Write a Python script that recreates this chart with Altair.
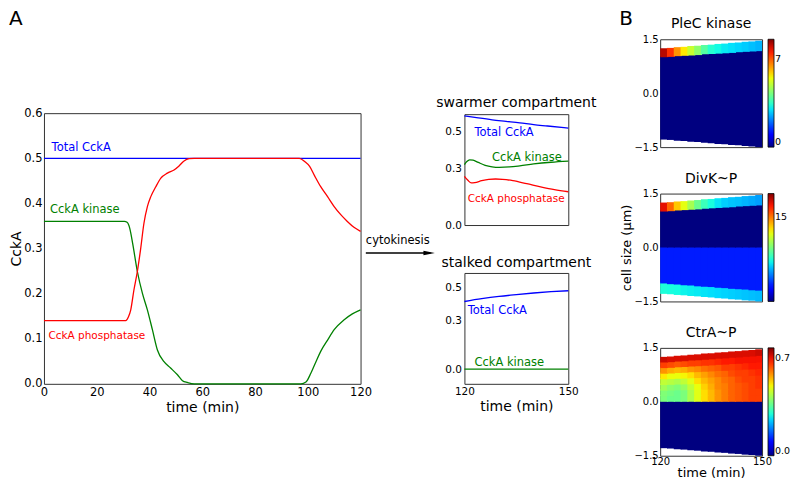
import altair as alt
import pandas as pd

FONT = "DejaVu Sans"
BLUE, GREEN, RED, FRAME = "#0000ff", "#008000", "#ff0000", "#333333"

# ---------------- Panel A : whole cell cycle ----------------
total_t = [0, 120]
total_v = [0.5, 0.5]
kinase_t = [0, 10, 20, 28, 30.5, 31.5, 32.5, 33.6, 35.4, 37.3, 39.2, 41.1, 43.0, 45.5, 48.0,
            50.6, 52.5, 54.4, 57, 70, 85, 97.4, 99.3, 101.2, 103.1, 104.9, 107.5, 110.0,
            113.8, 116.9, 120]
kinase_v = [0.36, 0.36, 0.36, 0.36, 0.36, 0.358, 0.345, 0.312, 0.249, 0.201, 0.164, 0.120,
            0.075, 0.049, 0.035, 0.020, 0.007, 0.003, 0.0, 0.0, 0.0, 0.0, 0.004, 0.024,
            0.049, 0.072, 0.097, 0.120, 0.142, 0.155, 0.164]
phos_t = [0, 10, 20, 28, 31.0, 32.0, 32.9, 34.1, 35.4, 36.6, 37.9, 39.2, 40.5, 42.4, 44.3,
          46.8, 49.3, 51.2, 53.1, 55.0, 57, 70, 85, 96.8, 98.8, 100.7, 102.6, 104.9, 107.5,
          110.0, 112.5, 115.0, 117.5, 120]
phos_v = [0.14, 0.14, 0.14, 0.14, 0.14, 0.148, 0.164, 0.208, 0.249, 0.297, 0.356, 0.393,
          0.415, 0.437, 0.456, 0.467, 0.474, 0.483, 0.494, 0.499, 0.5, 0.5, 0.5, 0.5, 0.493,
          0.482, 0.461, 0.437, 0.415, 0.393, 0.375, 0.360, 0.347, 0.338]
lab_text = ["Total CckA", "CckA kinase", "CckA phosphatase"]
lab_size = [11.5, 11.5, 10.5]
main_lab_t = [2.9, 2.3, 1.7]
main_lab_v = [0.517, 0.378, 0.099]

# ---------------- swarmer compartment ----------------
sw_total_t = [120, 124, 128, 132, 136, 140, 144, 150]
sw_total_v = [0.581, 0.570, 0.560, 0.552, 0.544, 0.534, 0.527, 0.516]
sw_kin_t = [120, 120.7, 121.5, 122.5, 124, 126, 128, 130, 133, 136, 140, 145, 150]
sw_kin_v = [0.322, 0.338, 0.347, 0.345, 0.333, 0.318, 0.310, 0.307, 0.309, 0.315, 0.325, 0.334, 0.340]
sw_pho_t = [120, 121, 122, 123, 125, 127, 129, 131, 134, 138, 142, 146, 150]
sw_pho_v = [0.259, 0.238, 0.224, 0.226, 0.236, 0.243, 0.245, 0.243, 0.236, 0.220, 0.203, 0.188, 0.177]
sw_lab_t = [122.9, 128.0, 120.95]
sw_lab_v = [0.472, 0.342, 0.121]

# ---------------- stalked compartment ----------------
st_total_t = [120, 125, 130, 135, 140, 145, 150]
st_total_v = [0.415, 0.432, 0.446, 0.457, 0.467, 0.475, 0.481]
st_kin_t = [120, 150]
st_kin_v = [0.0, 0.0]
st_lab_t = [120.95, 122.9]
st_lab_v = [0.34, 0.02]

# ---------------- Panel B : kymographs ----------------
heat_t = [120, 122, 124, 126, 128, 130, 132, 134, 136, 138, 140, 142, 144, 146, 148]
cell_top = [1.25, 1.26, 1.28, 1.29, 1.31, 1.32, 1.34, 1.35, 1.37, 1.38, 1.40, 1.41, 1.43, 1.44, 1.46]
cell_bot = [-1.29, -1.30, -1.32, -1.33, -1.35, -1.36, -1.38, -1.39, -1.41, -1.42, -1.44, -1.45, -1.47, -1.48, -1.50]
pole_edge = [1.00, 1.01, 1.03, 1.04, 1.05, 1.06, 1.08, 1.09, 1.10, 1.11, 1.12, 1.14, 1.15, 1.16, 1.17]
newpole_edge = [-1.00, -1.02, -1.03, -1.05, -1.06, -1.08, -1.09, -1.10, -1.12, -1.13, -1.15, -1.16, -1.17, -1.19, -1.20]
mid_line = [0.0] * 15
zero_vals = [0.0] * 15

plec_pole = [8.2, 7.4, 6.5, 5.7, 5.1, 4.5, 3.9, 3.4, 3.2, 3.05, 2.97, 2.88, 2.8, 2.7, 2.6]
divk_pole = [17.5, 15.4, 13.4, 12.1, 10.6, 9.2, 8.1, 7.3, 6.7, 6.3, 6.1, 6.0, 5.8, 5.6, 5.4]
divk_lower = [2.9] * 15
divk_newpole = [7.4, 7.3, 7.2, 7.0, 6.9, 6.8, 6.7, 6.6, 6.5, 6.4, 6.3, 6.2, 6.1, 6.0, 5.9]
# CtrA~P in the upper half: one list per time column, rows from midcell (0) to pole
ctra_upper = [
    [0.385, 0.39, 0.42, 0.45, 0.51, 0.58, 0.65, 0.72],
    [0.37, 0.38, 0.40, 0.44, 0.49, 0.56, 0.64, 0.71],
    [0.37, 0.37, 0.39, 0.43, 0.49, 0.55, 0.63, 0.71],
    [0.385, 0.385, 0.41, 0.45, 0.50, 0.56, 0.64, 0.71],
    [0.43, 0.43, 0.45, 0.48, 0.52, 0.58, 0.65, 0.71],
    [0.48, 0.48, 0.49, 0.52, 0.55, 0.59, 0.65, 0.71],
    [0.52, 0.52, 0.53, 0.55, 0.57, 0.61, 0.66, 0.71],
    [0.55, 0.55, 0.56, 0.57, 0.59, 0.62, 0.66, 0.71],
    [0.58, 0.58, 0.59, 0.59, 0.61, 0.63, 0.67, 0.71],
    [0.60, 0.60, 0.60, 0.61, 0.62, 0.65, 0.68, 0.71],
    [0.62, 0.62, 0.62, 0.62, 0.64, 0.65, 0.68, 0.71],
    [0.63, 0.63, 0.63, 0.64, 0.65, 0.66, 0.69, 0.71],
    [0.64, 0.64, 0.64, 0.65, 0.65, 0.67, 0.69, 0.71],
    [0.65, 0.65, 0.65, 0.65, 0.66, 0.68, 0.69, 0.71],
    [0.65, 0.65, 0.66, 0.66, 0.67, 0.68, 0.69, 0.72],
]

JET_STOPS = [0, 0.11, 0.125, 0.34, 0.375, 0.64, 0.66, 0.89, 1.0]
JET = ["#000080", "#0000ff", "#0000ff", "#00dbff", "#14ffe2", "#eeff08", "#ffec00", "#ff1300", "#800000"]

NOFRAME = alt.ViewBackground(stroke="transparent")


def line_panel(X, Y, series, labels, extra=()):
    layers = []
    for ts, vs, col in series:
        layers.append(alt.Chart(pd.DataFrame({"t": ts, "v": vs})).mark_line(
            color=col, strokeWidth=1.3, interpolate="monotone").encode(x=X, y=Y))
    for txt, t, v, col, fs in labels:
        df = pd.DataFrame({"t": [t], "v": [v], "txt": [txt]})
        layers.append(alt.Chart(df).mark_text(
            align="left", baseline="alphabetic", font=FONT, fontSize=fs, color=col
        ).encode(x=X, y=Y, text="txt:N"))
    layers.extend(extra)
    return alt.layer(*layers)


def header(letter, dx, height=1):
    base = alt.Chart(pd.DataFrame({"t": [0]})).mark_point(opacity=0, size=1).encode(
        x=alt.value(0), y=alt.value(0))
    if letter:
        return base.properties(
            width=1, height=height, view=NOFRAME,
            title=alt.TitleParams(letter, font=FONT, fontSize=20, fontWeight="normal",
                                  anchor="start", frame="group", dx=dx, offset=0))
    return base.properties(width=1, height=height, view=NOFRAME)


# ---- main chart ----
XA = alt.X("t:Q", scale=alt.Scale(domain=[0, 120], nice=False, zero=False),
           axis=alt.Axis(values=[0, 20, 40, 60, 80, 100, 120], format="d", title="time (min)",
                         labelFlush=False, labelPadding=3, titlePadding=2, titleFontSize=14))
YA = alt.Y("v:Q", scale=alt.Scale(domain=[0, 0.6], nice=False, zero=False),
           axis=alt.Axis(values=[0, 0.1, 0.2, 0.3, 0.4, 0.5, 0.6], format=".1f", title="CckA",
                         labelFlush=False, labelPadding=2, titlePadding=0, titleFontSize=14))

cyto_txt = pd.DataFrame({"t": [122.0], "v": [0.31], "txt": ["cytokinesis"]})
arrow_line = pd.DataFrame({"t": [122.0], "t2": [146.5], "v": [0.29]})
arrow_head = pd.DataFrame({"t": [146.0], "v": [0.29]})
ARROW = "M -1 -0.38 L 1 0 L -1 0.38 Z"

extra_main = [
    alt.Chart(cyto_txt).mark_text(align="left", baseline="alphabetic", font=FONT, fontSize=11.5,
                                  color="black").encode(x=XA, y=YA, text="txt:N"),
    alt.Chart(arrow_line).mark_rule(color="black", strokeWidth=1.3).encode(
        x=XA, x2=alt.X2("t2:Q"), y=YA),
    alt.Chart(arrow_head).mark_point(shape=ARROW, filled=True, size=130, color="black",
                                     opacity=1).encode(x=XA, y=YA),
]

COLS3 = [BLUE, GREEN, RED]
main = line_panel(
    XA, YA,
    [(total_t, total_v, BLUE), (kinase_t, kinase_v, GREEN), (phos_t, phos_v, RED)],
    [(lab_text[i], main_lab_t[i], main_lab_v[i], COLS3[i], lab_size[i]) for i in range(3)],
    extra_main,
).properties(width=317, height=271)

# ---- swarmer ----
XS = alt.X("t:Q", scale=alt.Scale(domain=[120, 150], nice=False, zero=False), axis=None)
YS = alt.Y("v:Q", scale=alt.Scale(domain=[0, 0.59], nice=False, zero=False),
           axis=alt.Axis(values=[0, 0.3, 0.5], format=".1f", title=None, labelFlush=False,
                         labelPadding=3, labelFontSize=10.5))
swarmer = line_panel(
    XS, YS,
    [(sw_total_t, sw_total_v, BLUE), (sw_kin_t, sw_kin_v, GREEN), (sw_pho_t, sw_pho_v, RED)],
    [(lab_text[i], sw_lab_t[i], sw_lab_v[i], COLS3[i], lab_size[i]) for i in range(3)],
).properties(width=104, height=111,
             title=alt.TitleParams("swarmer compartment", font=FONT, fontSize=14,
                                   fontWeight="normal", offset=3))

# ---- stalked ----
XT = alt.X("t:Q", scale=alt.Scale(domain=[120, 150], nice=False, zero=False),
           axis=alt.Axis(values=[120, 150], format="d", title="time (min)", labelFlush=False,
                         labelPadding=3, titlePadding=2, labelFontSize=10.5, titleFontSize=14))
YT = alt.Y("v:Q", scale=alt.Scale(domain=[-0.09, 0.59], nice=False, zero=False),
           axis=alt.Axis(values=[0, 0.3, 0.5], format=".1f", title=None, labelFlush=False,
                         labelPadding=3, labelFontSize=10.5))
pad_pt = pd.DataFrame({"t": [164.0], "v": [0.0]})
stalked = line_panel(
    XT, YT,
    [(st_total_t, st_total_v, BLUE), (st_kin_t, st_kin_v, GREEN)],
    [(lab_text[i], st_lab_t[i], st_lab_v[i], COLS3[i], lab_size[i]) for i in range(2)],
    [alt.Chart(pad_pt).mark_point(opacity=0, size=1).encode(x=XT, y=YT)],
).properties(width=104, height=111,
             title=alt.TitleParams("stalked compartment", font=FONT, fontSize=14,
                                   fontWeight="normal", offset=3))


# ---- heatmaps ----
def heat_rows(segments):
    rows = []
    n = len(segments)
    for s, (lo, hi, vals) in enumerate(segments):
        for i, t in enumerate(heat_t):
            # cells overlap the next ones (drawn later) so no anti-aliasing seams show
            top = hi[i] + (0.035 if s < n - 1 else 0.0)
            rows.append({"t0": t, "t1": min(t + 2.35, 150), "y0": lo[i], "y1": top,
                         "val": vals[i]})
    return pd.DataFrame(rows)


def heat_chart(df, title, vmax, lvals, lfmt, show_x=False, ytitle=None):
    HX = alt.X("t0:Q", scale=alt.Scale(domain=[120, 150], nice=False, zero=False),
               axis=alt.Axis(values=[120, 150], format="d", title="time (min)",
                             labelFlush=False, labelPadding=1, titlePadding=0,
                             labelFontSize=10, titleFontSize=13) if show_x else None)
    yax = dict(values=[-1.5, 0, 1.5], format=".1f", labelFlush=False, labelPadding=2,
               titlePadding=0, labelFontSize=10, titleFontSize=13)
    yax["title"] = ytitle
    HY = alt.Y("y0:Q", scale=alt.Scale(domain=[-1.5, 1.5], nice=False, zero=False),
               axis=alt.Axis(**yax))
    cs = alt.Scale(domain=[s * vmax for s in JET_STOPS], range=JET, interpolate="rgb")
    leg = alt.Legend(title=None, values=lvals, format=lfmt, orient="right", offset=6, padding=0,
                     gradientLength=108, gradientThickness=6, gradientStrokeColor="black",
                     gradientStrokeWidth=0.8, labelFontSize=9.5, labelFont=FONT, labelOffset=1,
                     labelColor="black", labelBaseline="middle", direction="vertical",
                     type="gradient")
    rect = alt.Chart(df).mark_rect().encode(
        x=HX, x2=alt.X2("t1:Q"), y=HY, y2=alt.Y2("y1:Q"),
        color=alt.Color("val:Q", scale=cs, legend=leg),
    )
    return rect.properties(
        width=102, height=108,
        title=alt.TitleParams(title, font=FONT, fontSize=14, fontWeight="normal", offset=3))


plec_df = heat_rows([(cell_bot, pole_edge, zero_vals), (pole_edge, cell_top, plec_pole)])
divk_df = heat_rows([(cell_bot, newpole_edge, divk_newpole), (newpole_edge, mid_line, divk_lower),
                     (mid_line, pole_edge, zero_vals), (pole_edge, cell_top, divk_pole)])
ctra_segments = [(cell_bot, mid_line, zero_vals)]
for k in range(8):
    lo = [cell_top[i] * k / 8 for i in range(15)]
    hi = [cell_top[i] * (k + 1) / 8 for i in range(15)]
    ctra_segments.append((lo, hi, [ctra_upper[i][k] for i in range(15)]))
ctra_df = heat_rows(ctra_segments)

plec = heat_chart(plec_df, "PleC kinase", 8.6, [0, 7], "d")
divk = heat_chart(divk_df, "DivK~P", 19.2, [15], "d", ytitle="cell size (\u03bcm)")
ctra = heat_chart(ctra_df, "CtrA~P", 0.77, [0.0, 0.7], ".1f", show_x=True)

col1 = alt.vconcat(header("A", -35), main, spacing=75)
col2 = alt.vconcat(header(None, 0, height=41), swarmer, stalked, spacing=24)
heat_stack = alt.vconcat(plec, divk, ctra, spacing=17.5).resolve_scale(color="independent")
col3 = alt.vconcat(header("B", -41), heat_stack, spacing=-15).resolve_scale(color="independent")

chart = alt.hconcat(col1, col2, col3, spacing=0, padding=0).resolve_scale(
    color="independent"
).configure_view(stroke=FRAME, strokeWidth=1).configure_axis(
    labelFont=FONT, titleFont=FONT, labelFontSize=11.5, titleFontSize=14.4,
    labelColor="black", titleColor="black", grid=False, ticks=False, domain=False,
    titleFontWeight="normal"
).configure_title(font=FONT, fontSize=14.4, fontWeight="normal", color="black").properties(
    background="white")

chart.save("out.html", embed_options={"renderer": "svg", "actions": False})
